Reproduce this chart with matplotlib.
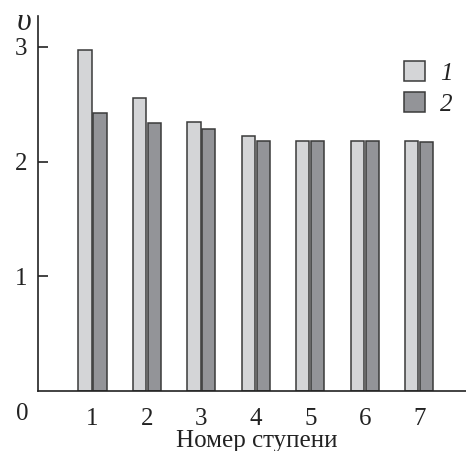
import matplotlib
matplotlib.use("Agg")
import matplotlib.pyplot as plt
import numpy as np

stages = [1, 2, 3, 4, 5, 6, 7]
series1 = [2.97, 2.555, 2.35, 2.223, 2.18, 2.18, 2.18]
series2 = [2.42, 2.334, 2.288, 2.183, 2.18, 2.18, 2.17]
labels = ["1", "2"]
yticks = [1, 2, 3]

plt.rcParams['font.family'] = ['Liberation Serif', 'DejaVu Serif']
FS = 18

fig = plt.figure(figsize=(4.66, 4.51), dpi=100)
ax = fig.add_axes([38/466, 1-391/451, 1-38/466, (391-16)/451])

x = np.array(stages, dtype=float)
w = 0.245
off = 0.137
ec = '#3a3a3a'
ax.bar(x - off, series1, width=w, color='#d4d5d7', edgecolor=ec, linewidth=1.1, label=labels[0])
ax.bar(x + off, series2, width=w, color='#939498', edgecolor=ec, linewidth=1.1, label=labels[1])

ax.set_xlim(0, 7.86)
ax.set_ylim(0, 3.27)
ax.spines['top'].set_visible(False)
ax.spines['right'].set_visible(False)
for s in ['left', 'bottom']:
    ax.spines[s].set_linewidth(1.2)
    ax.spines[s].set_color('#222222')

ax.set_yticks(yticks)
ax.set_yticklabels([str(t) for t in yticks], fontsize=FS)
ax.tick_params(axis='y', direction='in', length=7, width=1.2, pad=8, colors='#222222')
ax.set_xticks(stages)
ax.set_xticklabels([str(s) for s in stages], fontsize=FS)
ax.tick_params(axis='x', length=0, pad=12, colors='#222222')

fig.text(22/466, 1-414/451, "0", fontsize=FS, ha='center', va='center', color='#222222')
fig.text(24/466, 1-19/451, "υ", fontsize=FS + 5, ha='center', va='center_baseline', style='italic', color='#222222')
fig.text(257/466, 1-441/451, "Номер ступени", fontsize=FS, ha='center', va='center', color='#222222')

leg = ax.legend(loc='upper left', bbox_to_anchor=(404/466, 1-61/451), bbox_transform=fig.transFigure,
                frameon=False, fontsize=FS, handlelength=0.85, handleheight=0.85,
                handletextpad=0.6, labelspacing=0.3, borderpad=0, borderaxespad=0)
for t in leg.get_texts():
    t.set_style('italic')
    t.set_color('#222222')

fig.savefig("out.png", dpi=100)
